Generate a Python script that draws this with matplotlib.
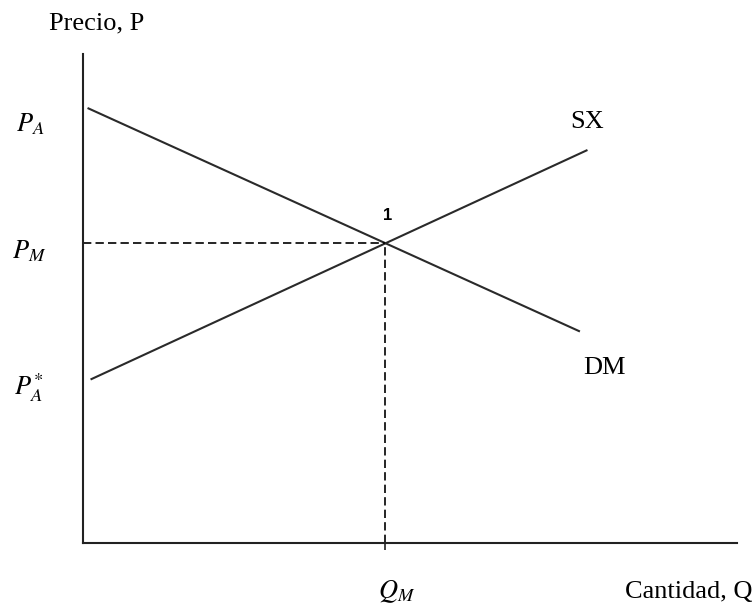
import matplotlib
matplotlib.use("Agg")
import matplotlib.pyplot as plt

# equilibrium in the import market
q_m = 10.0
p_m = 10.0
p_a = 14.5      # autarky price, importing country
p_a_star = 5.45  # autarky price, exporting country

# demand for imports (DM) and supply of exports (SX)
dm_q = [0.15, 16.45]
dm_p = [p_a, 7.05]
sx_q = [0.25, 16.7]
sx_p = [p_a_star, 13.1]

plt.rcParams['font.family'] = ['Liberation Serif', 'DejaVu Serif']
plt.rcParams['mathtext.fontset'] = 'stix'

W, H = 756, 607
fig = plt.figure(figsize=(W / 100, H / 100), dpi=100)
ax = fig.add_axes([83 / W, (H - 543) / H, (737 - 83) / W, (543 - 54) / H])
ax.set_xlim(0, 21.65)
ax.set_ylim(0, 16.3)

for side in ['top', 'right']:
    ax.spines[side].set_visible(False)
for side in ['left', 'bottom']:
    ax.spines[side].set_linewidth(1.5)
    ax.spines[side].set_color('#222222')

ax.set_yticks([])
ax.set_xticks([q_m])
ax.set_xticklabels([''])
ax.tick_params(axis='x', length=5, width=1.2, direction='out', colors='#222222')

ax.plot(dm_q, dm_p, color='#2a2a2a', lw=1.5, solid_capstyle='butt')
ax.plot(sx_q, sx_p, color='#2a2a2a', lw=1.5, solid_capstyle='butt')

# dashed guides to the equilibrium point
ax.plot([0, q_m], [p_m, p_m], color='black', lw=1.2, dashes=(5, 2.5))
ax.plot([q_m, q_m], [0, p_m], color='black', lw=1.2, dashes=(5, 2.5))

mfs = 19
ax.annotate(r'$P_A$', xy=(0, p_a), xytext=(-38, -11.5), textcoords='offset points',
            ha='center', va='center', fontsize=mfs, annotation_clip=False)
ax.annotate(r'$P_M$', xy=(0, p_m), xytext=(-39, -6), textcoords='offset points',
            ha='center', va='center', fontsize=mfs, annotation_clip=False)
ax.annotate(r'$P_A^{*}$', xy=(0, p_a_star), xytext=(-39, -6), textcoords='offset points',
            ha='center', va='center', fontsize=mfs, annotation_clip=False)
ax.annotate(r'$Q_M$', xy=(q_m, 0), xytext=(8, -35), textcoords='offset points',
            ha='center', va='center', fontsize=mfs, annotation_clip=False)

ax.annotate('Precio, P', xy=(0, 16.3), xytext=(9.5, 22), textcoords='offset points',
            ha='center', va='center', fontsize=19, annotation_clip=False)
ax.annotate('Cantidad, Q', xy=(21.65, 0), xytext=(11, -35), textcoords='offset points',
            ha='right', va='center', fontsize=19, annotation_clip=False)

ax.annotate('SX', xy=(sx_q[-1], sx_p[-1]), xytext=(0, 20), textcoords='offset points',
            ha='center', va='center', fontsize=19)
ax.annotate('DM', xy=(dm_q[-1], dm_p[-1]), xytext=(18, -26), textcoords='offset points',
            ha='center', va='center', fontsize=19)
ax.annotate('1', xy=(q_m, p_m), xytext=(1.5, 20), textcoords='offset points',
            ha='center', va='center', fontsize=12, family='Liberation Sans',
            fontweight='bold')

fig.savefig('out.png', dpi=100)
